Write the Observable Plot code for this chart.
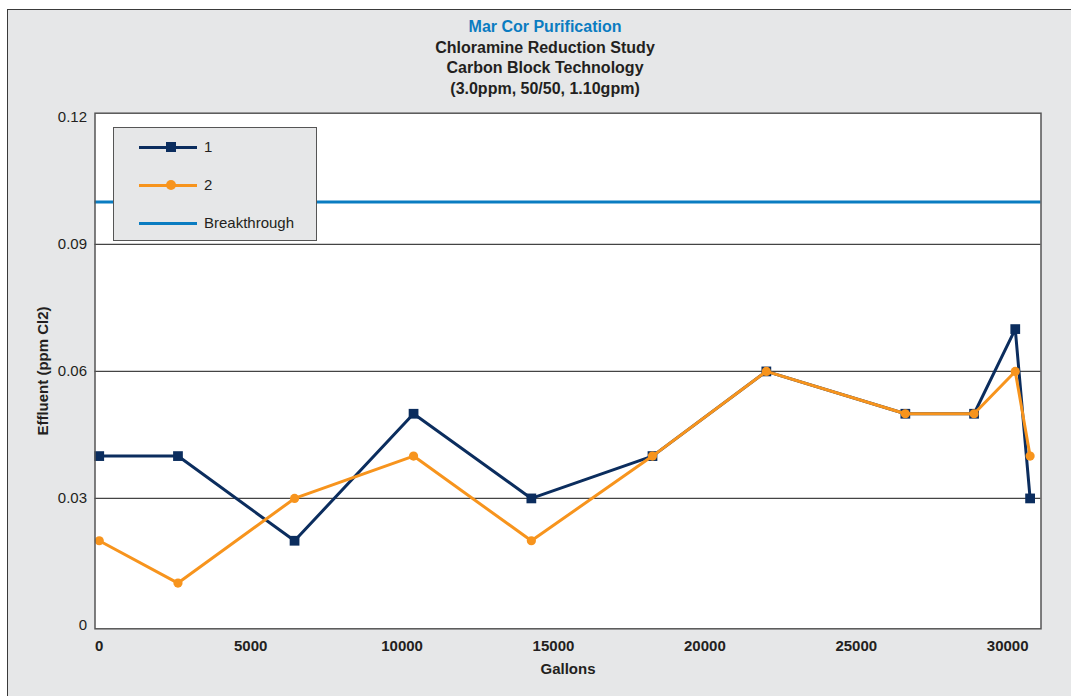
<!DOCTYPE html>
<html>
<head>
<meta charset="utf-8">
<script src="https://cdn.jsdelivr.net/npm/d3@7"></script>
<script src="https://cdn.jsdelivr.net/npm/@observablehq/plot@0.6"></script>
<style>
  html, body { margin: 0; padding: 0; background: #ffffff; }
  #page { position: relative; width: 1071px; height: 696px; overflow: hidden; font-family: "Liberation Sans", Arial, sans-serif; }
  #panel { position: absolute; left: 7px; top: 9px; right: 0; bottom: 0; background: #e6e7e8; border-top: 1.5px solid #3a3a3a; border-left: 1.5px solid #3a3a3a; }
  #titles { position: absolute; left: 0; top: 17px; width: 1090px; text-align: center; font-weight: bold; font-size: 16px; line-height: 20.5px; color: #231f20; }
  #titles .brand { color: #0a7cc1; }
  #chart { position: absolute; left: 0; top: 100px; }
  #legend { position: absolute; left: 113px; top: 127px; width: 204px; height: 114px; background: #e6e7e8; border: 1px solid #555; box-sizing: border-box; font-size: 15px; color: #231f20; }
  .row { position: absolute; left: 0; width: 100%; height: 0; }
  .sw { position: absolute; left: 25px; width: 58px; height: 3px; top: -1.5px; }
  .mk { position: absolute; }
  .lab { position: absolute; left: 90px; top: -9px; line-height: 18px; white-space: nowrap; }
</style>
</head>
<body>
<div id="page">
  <div id="panel"></div>
  <div id="titles"></div>
  <div id="chart"></div>
  <div id="legend"></div>
</div>
<script>
// ---- data ----
const titleLines = ["Mar Cor Purification", "Chloramine Reduction Study", "Carbon Block Technology", "(3.0ppm, 50/50, 1.10gpm)"];
const gallons = [0, 2600, 6450, 10380, 14270, 18270, 22030, 26620, 28890, 30250, 30740];
const series1 = [0.04, 0.04, 0.02, 0.05, 0.03, 0.04, 0.06, 0.05, 0.05, 0.07, 0.03];
const series2 = [0.02, 0.01, 0.03, 0.04, 0.02, 0.04, 0.06, 0.05, 0.05, 0.06, 0.04];
const breakthrough = 0.1;
const seriesNames = ["1", "2", "Breakthrough"];
const xTicks = [0, 5000, 10000, 15000, 20000, 25000, 30000];
const xTickLabels = ["0", "5000", "10000", "15000", "20000", "25000", "30000"];
const yTicks = [0, 0.03, 0.06, 0.09, 0.12];
const yTickLabels = ["0", "0.03", "0.06", "0.09", "0.12"];
const xLabel = "Gallons";
const yLabel = "Effluent (ppm Cl2)";

const C1 = "#0b2d5e", C2 = "#f7941d", CB = "#0a7cc1";

// titles
const tdiv = document.getElementById("titles");
titleLines.forEach((t, i) => {
  const d = document.createElement("div");
  d.textContent = t;
  if (i === 0) d.className = "brand";
  tdiv.appendChild(d);
});

const d1 = gallons.map((g, i) => ({x: g, y: series1[i]}));
const d2 = gallons.map((g, i) => ({x: g, y: series2[i]}));

const plot = Plot.plot({
  width: 1071,
  height: 596,
  marginTop: 12.7,
  marginBottom: 67.7,
  marginLeft: 94.5,
  marginRight: 30.5,
  style: {background: "transparent", fontFamily: "'Liberation Sans', Arial, sans-serif", fontSize: "15px", color: "#231f20"},
  x: {domain: [-140, 31100]},
  y: {domain: [-0.0008, 0.121]},
  marks: [
    Plot.frame({fill: "white", stroke: "none"}),
    Plot.ruleY(yTicks.slice(1, 4), {stroke: "#444", strokeWidth: 1.3}),
    Plot.ruleY([breakthrough], {stroke: CB, strokeWidth: 3}),
    Plot.line(d1, {x: "x", y: "y", stroke: C1, strokeWidth: 3}),
    Plot.dot(d1, {x: "x", y: "y", symbol: "square", r: 5.5, fill: C1, stroke: "none"}),
    Plot.line(d2, {x: "x", y: "y", stroke: C2, strokeWidth: 3}),
    Plot.dot(d2, {x: "x", y: "y", symbol: "circle", r: 4.6, fill: C2, stroke: "none"}),
    Plot.frame({stroke: "#555", strokeWidth: 1.5}),
    Plot.axisX({ticks: xTicks, tickFormat: (d) => xTickLabels[xTicks.indexOf(d)], tickSize: 0, tickPadding: 12, fontWeight: "bold", fontSize: 15, label: xLabel, labelAnchor: "center", labelOffset: 45, labelArrow: "none"}),
    Plot.axisY({ticks: yTicks, tickFormat: (d) => yTickLabels[yTicks.indexOf(d)], tickSize: 0, tickPadding: 8, fontSize: 15, label: null}),
    Plot.text([yLabel], {frameAnchor: "left", textAnchor: "middle", rotate: -90, dx: -52, fontWeight: "bold", fontSize: 15, fill: "#231f20"})
  ]
});
document.getElementById("chart").appendChild(plot);

// legend
const leg = document.getElementById("legend");
const rows = [
  {name: seriesNames[0], color: C1, marker: "square", top: 19},
  {name: seriesNames[1], color: C2, marker: "circle", top: 57},
  {name: seriesNames[2], color: CB, marker: null, top: 95}
];
rows.forEach(r => {
  const row = document.createElement("div");
  row.className = "row";
  row.style.top = r.top + "px";
  const sw = document.createElement("div");
  sw.className = "sw";
  sw.style.background = r.color;
  row.appendChild(sw);
  if (r.marker) {
    const m = document.createElement("div");
    m.className = "mk";
    const s = 10;
    m.style.width = s + "px"; m.style.height = s + "px";
    m.style.left = (57 - s / 2) + "px"; m.style.top = (-s / 2) + "px";
    m.style.background = r.color;
    if (r.marker === "circle") m.style.borderRadius = "50%";
    row.appendChild(m);
  }
  const lab = document.createElement("div");
  lab.className = "lab";
  lab.textContent = r.name;
  row.appendChild(lab);
  leg.appendChild(row);
});
</script>
</body>
</html>
